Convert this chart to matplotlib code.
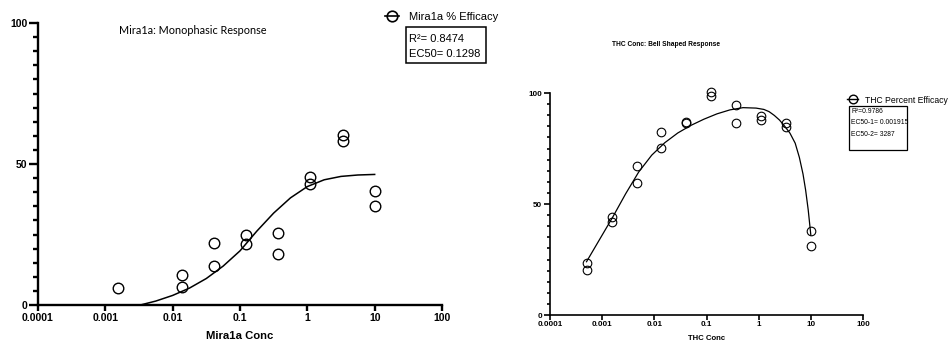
import matplotlib
matplotlib.use('Agg')
import matplotlib.pyplot as plt
from matplotlib.lines import Line2D
from matplotlib.patches import Rectangle
from matplotlib.ticker import FixedLocator, NullFormatter

plt.rcParams['font.family'] = ['Liberation Sans', 'DejaVu Sans']

# ---- Mira1a: monophasic ----
mira_conc = [0.00152, 0.0137, 0.0137, 0.041, 0.041, 0.123, 0.123, 0.37, 0.37,
             1.11, 1.11, 3.33, 3.33, 10, 10]
mira_eff = [5.9, 10.6, 6.5, 21.9, 13.9, 24.8, 21.5, 25.4, 18.1,
            45.3, 42.9, 60.3, 58.3, 40.5, 35.1]
# fitted curve (log10 of conc, % efficacy)
mira_fit_logc = [-2.48, -2.25, -2.0, -1.75, -1.5, -1.25, -1.0, -0.75, -0.5,
                 -0.25, 0.0, 0.25, 0.5, 0.75, 1.0]
mira_fit_eff = [0.0, 1.4, 3.4, 6.0, 9.4, 13.8, 19.2, 26.2, 32.6,
                38.0, 42.0, 44.4, 45.6, 46.1, 46.3]

# ---- THC: bell shaped ----
thc_conc = [0.00051, 0.00051, 0.00152, 0.00152, 0.00457, 0.00457, 0.0137, 0.0137,
            0.041, 0.041, 0.123, 0.123, 0.37, 0.37, 1.11, 1.11, 3.33, 3.33, 10, 10]
thc_eff = [23.6, 20.3, 44.3, 42.0, 67.1, 59.6, 82.6, 75.1,
           87.1, 86.4, 100.4, 98.5, 94.6, 86.4, 89.8, 87.8, 86.4, 84.6, 37.8, 31.2]
thc_fit_logc = [-3.3, -3.05, -2.8, -2.55, -2.3, -2.05, -1.8, -1.55, -1.3,
                -1.05, -0.8, -0.55, -0.3, -0.05, 0.1, 0.2, 0.3, 0.4, 0.5,
                0.6, 0.7, 0.78, 0.85, 0.9, 0.95, 0.98, 1.0]
thc_fit_eff = [24.0, 34.0, 44.0, 54.6, 64.4, 72.0, 77.6, 82.0, 85.4,
               88.2, 90.6, 92.4, 93.4, 93.2, 92.6, 91.6, 89.9, 87.8, 85.0,
               81.9, 77.4, 71.0, 63.5, 56.3, 47.3, 40.5, 36.0]

decades = [0.0001, 0.001, 0.01, 0.1, 1, 10, 100]
decade_labels = ['0.0001', '0.001', '0.01', '0.1', '1', '10', '100']

W, H = 948, 343
fig = plt.figure(figsize=(W / 100, H / 100), dpi=100)


def fx(px):
    return px / W


def fy(py):
    return 1 - py / H


def style_axes(ax, lw, tick_fs, major_x, major_y, minor_y):
    ax.set_xscale('log')
    ax.set_xlim(0.0001, 100)
    ax.set_ylim(0, 100)
    for s in ['top', 'right']:
        ax.spines[s].set_visible(False)
    for s in ['left', 'bottom']:
        ax.spines[s].set_linewidth(lw)
    ax.xaxis.set_major_locator(FixedLocator(decades))
    ax.xaxis.set_minor_locator(FixedLocator([]))
    ax.set_xticklabels(decade_labels, fontweight='bold', fontsize=tick_fs)
    ax.yaxis.set_major_locator(FixedLocator([0, 50, 100]))
    ax.yaxis.set_minor_locator(FixedLocator(list(range(5, 100, 5))))
    ax.yaxis.set_minor_formatter(NullFormatter())
    ax.set_yticklabels(['0', '50', '100'], fontweight='bold', fontsize=tick_fs)
    ax.tick_params(axis='x', which='major', length=major_x, width=lw, pad=1)
    ax.tick_params(axis='y', which='major', length=major_y, width=lw, pad=1)
    ax.tick_params(axis='y', which='minor', length=minor_y, width=lw)
    ax.patch.set_alpha(0)


# left panel
ax1 = fig.add_axes([fx(38), fy(305), (442 - 38) / W, (305 - 23) / H])
style_axes(ax1, 1.7, 7.5, 4.5, 6.5, 3.5)
ax1.plot([10 ** v for v in mira_fit_logc], mira_fit_eff, color='black', lw=1.1,
         clip_on=False)
ax1.plot(mira_conc, mira_eff, 'o', mfc='none', mec='black', ms=7.6, mew=1.0,
         clip_on=False)
ax1.set_xlabel('Mira1a Conc', fontweight='bold', fontsize=8.1, labelpad=6)
fig.text(fx(119), fy(31), 'Mira1a: Monophasic Response', family='Lato',
         fontsize=7.8, ha='left', va='center')
h1 = Line2D([], [], color='black', lw=1.2, marker='o', mfc='none', mec='black',
            ms=7.6, mew=1.2)
ax1.legend([h1], ['Mira1a % Efficacy'], loc='center left',
           bbox_to_anchor=(fx(385), fy(17)), bbox_transform=fig.transFigure,
           frameon=False, fontsize=8, handlelength=1.25, handletextpad=0.95,
           borderpad=0, borderaxespad=0)
fig.patches.append(Rectangle((fx(406), fy(63)), 80 / W, 36 / H, fill=False,
                             ec='black', lw=1.1, transform=fig.transFigure))
fig.text(fx(409), fy(39.5), 'R\u00b2= 0.8474', fontsize=8, ha='left', va='center')
fig.text(fx(409), fy(54), 'EC50= 0.1298', fontsize=8, ha='left', va='center')

# right panel
ax2 = fig.add_axes([fx(550), fy(315), (863 - 550) / W, (315 - 93) / H])
style_axes(ax2, 1.2, 5.8, 3.5, 4.5, 2.5)
ax2.plot([10 ** v for v in thc_fit_logc], thc_fit_eff, color='black', lw=0.9,
         clip_on=False)
ax2.plot(thc_conc, thc_eff, 'o', mfc='none', mec='black', ms=6.2, mew=0.8,
         clip_on=False)
ax2.set_xlabel('THC Conc', fontweight='bold', fontsize=5.6, labelpad=5)
fig.text(fx(666), fy(45), 'THC Conc: Bell Shaped Response', fontweight='bold',
         fontsize=4.8, ha='center', va='center')
h2 = Line2D([], [], color='black', lw=1.0, marker='o', mfc='none', mec='black',
            ms=6.2, mew=1.0)
ax2.legend([h2], ['THC Percent Efficacy'], loc='center left',
           bbox_to_anchor=(fx(847), fy(100)), bbox_transform=fig.transFigure,
           frameon=False, fontsize=6.2, handlelength=1.3, handletextpad=0.75,
           borderpad=0, borderaxespad=0)
fig.patches.append(Rectangle((fx(849), fy(150)), 58 / W, 44 / H, fill=False,
                             ec='black', lw=0.9, transform=fig.transFigure))
for txt, py in zip(['R\u00b2=0.9786', 'EC50-1= 0.001915', 'EC50-2= 3287'],
                   [111, 122.5, 134.5]):
    fig.text(fx(851), fy(py), txt, fontsize=4.9, ha='left', va='center')

fig.savefig('out.png', dpi=100)
